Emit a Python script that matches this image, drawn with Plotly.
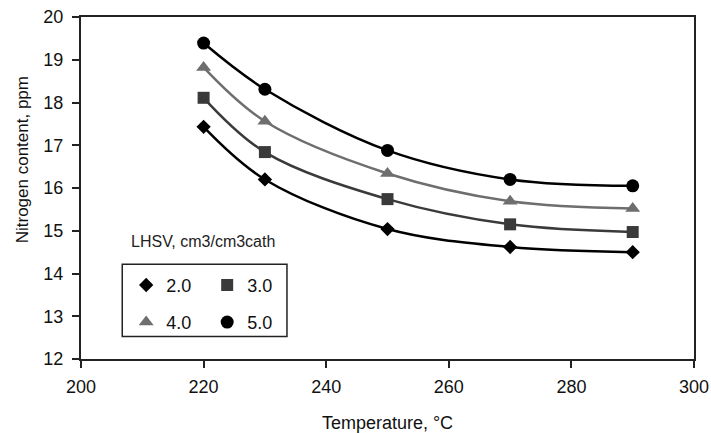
import plotly.graph_objects as go

# Hydrotreated product nitrogen vs. reactor temperature at four space velocities
temperature = [220, 230, 250, 270, 290]
lhsv_labels = ["2.0", "3.0", "4.0", "5.0"]
nitrogen_lhsv_2 = [17.43, 16.20, 15.04, 14.62, 14.50]
nitrogen_lhsv_3 = [18.11, 16.84, 15.74, 15.15, 14.97]
nitrogen_lhsv_4 = [18.82, 17.56, 16.34, 15.69, 15.52]
nitrogen_lhsv_5 = [19.39, 18.31, 16.88, 16.20, 16.05]

x_ticks = [200, 220, 240, 260, 280, 300]
y_ticks = [12, 13, 14, 15, 16, 17, 18, 19, 20]

series = [
    (lhsv_labels[0], nitrogen_lhsv_2, "diamond", 11, "#000000", "#000000", "legend"),
    (lhsv_labels[1], nitrogen_lhsv_3, "square", 12, "#3a3a3a", "#3a3a3a", "legend"),
    (lhsv_labels[2], nitrogen_lhsv_4, "triangle-up", 13, "#6e6e6e", "#6e6e6e", "legend2"),
    (lhsv_labels[3], nitrogen_lhsv_5, "circle", 13, "#000000", "#000000", "legend2"),
]

FONT = "Liberation Sans, Arial, sans-serif"
fig = go.Figure()

# smooth connecting curves
for name, vals, sym, size, lcol, mcol, leg in series:
    fig.add_trace(go.Scatter(
        x=temperature, y=vals, mode="lines",
        line=dict(color=lcol, width=2.5, shape="spline", smoothing=1.0),
        showlegend=False, hoverinfo="skip",
    ))

# measured points
for name, vals, sym, size, lcol, mcol, leg in series:
    fig.add_trace(go.Scatter(
        x=temperature, y=vals, mode="markers", name=name,
        marker=dict(symbol=sym, size=size, color=mcol, line=dict(width=0)),
        legend=leg,
    ))

legend_common = dict(
    orientation="h", xanchor="left", yanchor="middle",
    bgcolor="rgba(0,0,0,0)", borderwidth=0,
    font=dict(family=FONT, size=18, color="#111111"),
    entrywidth=36, entrywidthmode="pixels",
    itemsizing="trace", tracegroupgap=0,
)

fig.update_layout(
    width=711, height=433,
    margin=dict(l=81, r=17, t=17, b=74),
    paper_bgcolor="white", plot_bgcolor="white",
    font=dict(family=FONT, size=18, color="#111111"),
    showlegend=True,
    legend=dict(x=0.0737, y=0.2155, **legend_common),
    legend2=dict(x=0.0737, y=0.107, **legend_common),
    xaxis=dict(
        range=[200, 300], tickvals=x_ticks, ticks="outside", ticklen=7,
        tickwidth=1.5, tickcolor="#222", showline=True, linecolor="#222",
        linewidth=2, mirror=True, showgrid=False, zeroline=False,
        tickfont=dict(size=18), ticklabelstandoff=3, automargin=False,
        title=dict(text="Temperature, °C", font=dict(size=18), standoff=26),
    ),
    yaxis=dict(
        range=[12, 20], tickvals=y_ticks, ticks="outside", ticklen=7,
        tickwidth=1.5, tickcolor="#222", showline=True, linecolor="#222",
        linewidth=2, mirror=True, showgrid=False, zeroline=False,
        tickfont=dict(size=18), ticklabelstandoff=5, automargin=False,
    ),
    shapes=[dict(
        type="rect", xref="paper", yref="paper",
        x0=0.0673, x1=0.336, y0=0.066, y1=0.277,
        line=dict(color="#222", width=1.5), fillcolor="rgba(0,0,0,0)",
    )],
    annotations=[
        dict(
            text="LHSV, cm3/cm3cath", xref="paper", yref="paper",
            x=0.1985, y=0.344, showarrow=False, xanchor="center", yanchor="middle",
            font=dict(family=FONT, size=16, color="#222"),
        ),
        # vertical axis title, set a little above the axis midpoint
        dict(
            text="Nitrogen content, ppm", xref="paper", yref="paper",
            x=0, y=0.581, xshift=-59, showarrow=False, textangle=-90,
            xanchor="center", yanchor="middle",
            font=dict(family=FONT, size=17, color="#111111"),
        ),
    ],
)

fig.write_html("out.html")
